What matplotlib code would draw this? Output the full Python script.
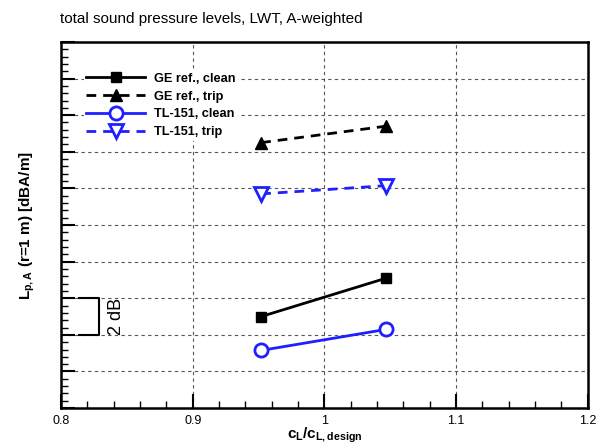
import matplotlib.pyplot as plt
from matplotlib.ticker import MultipleLocator, NullFormatter

plt.rcParams['font.family'] = ['Liberation Sans', 'DejaVu Sans']
plt.rcParams['mathtext.fontset'] = 'custom'
plt.rcParams['mathtext.rm'] = 'Liberation Sans'
plt.rcParams['mathtext.bf'] = 'Liberation Sans:bold'
plt.rcParams['mathtext.it'] = 'Liberation Sans:italic'

# lift coefficient ratio c_L/c_L,design
cl_ratio = [0.952, 1.047]

# L_p,A in dB (axis has no labels, bottom set to 80 dB)
ge_clean = [85.0, 87.1]
ge_trip = [94.5, 95.4]
tl_clean = [83.15, 84.3]
tl_trip = [91.7, 92.15]

labels = ['GE ref., clean', 'GE ref., trip', 'TL-151, clean', 'TL-151, trip']

blue = '#1f1fff'

fig = plt.figure(figsize=(5.98, 4.46), dpi=100)
ax = fig.add_axes([0.102, 0.085, 0.881, 0.821])

ax.plot(cl_ratio, ge_clean, '-', color='black', lw=2, marker='s', ms=7.5, label=labels[0])
ax.plot(cl_ratio, ge_trip, '--', color='black', lw=2, marker='^', ms=9, dashes=(3.5, 2.5), label=labels[1])
ax.plot(cl_ratio, tl_clean, '-', color=blue, lw=2, marker='o', ms=9.5, mfc='white', mec=blue, mew=2, label=labels[2])
ax.plot(cl_ratio, tl_trip, '--', color=blue, lw=2, marker='v', ms=10, mfc='white', mec=blue, mew=2, dashes=(3.5, 2.5), label=labels[3])

# 2 dB scale bracket
ax.plot([0.814, 0.829, 0.829, 0.814], [86, 86, 84, 84], color='black', lw=1.5)
ax.text(0.836, 85, '2 dB', rotation=90, ha='left', va='center', fontsize=13)

ax.set_xlim(0.8, 1.2)
ax.set_ylim(80, 100)
ax.xaxis.set_minor_locator(MultipleLocator(0.02))
ax.yaxis.set_major_locator(MultipleLocator(2))
ax.yaxis.set_minor_locator(MultipleLocator(0.4))
ax.yaxis.set_major_formatter(NullFormatter())
ax.set_xticks([0.8, 0.9, 1.0, 1.1, 1.2])
ax.set_xticklabels(['0.8', '0.9', '1', '1.1', '1.2'])
ax.tick_params(which='major', direction='in', length=10, width=1.5, labelsize=9)
ax.tick_params(which='minor', direction='in', length=5, width=1)
ax.tick_params(axis='x', pad=5)
ax.grid(True, which='major', linestyle=(0, (3, 3)), color='#555555', lw=0.8)
for s in ax.spines.values():
    s.set_linewidth(1.8)

ax.set_xlabel(r'$\mathbf{c_L/c_{L,design}}$', fontsize=11, labelpad=-1)
ax.set_ylabel(r'$\mathbf{L_{p,A}}$ (r=1 m) [dBA/m]', fontsize=11, fontweight='bold', labelpad=14)
fig.text(0.1, 0.958, 'total sound pressure levels, LWT, A-weighted', fontsize=11, ha='left', va='center')

leg = ax.legend(loc='upper left', bbox_to_anchor=(0.031, 0.94), frameon=True, fancybox=False,
                edgecolor='none', facecolor='white', framealpha=1, handlelength=4.6,
                handletextpad=0.7, labelspacing=0.45, borderpad=0.2,
                prop={'weight': 'bold', 'size': 9.2})

fig.savefig('out.png', dpi=100)
